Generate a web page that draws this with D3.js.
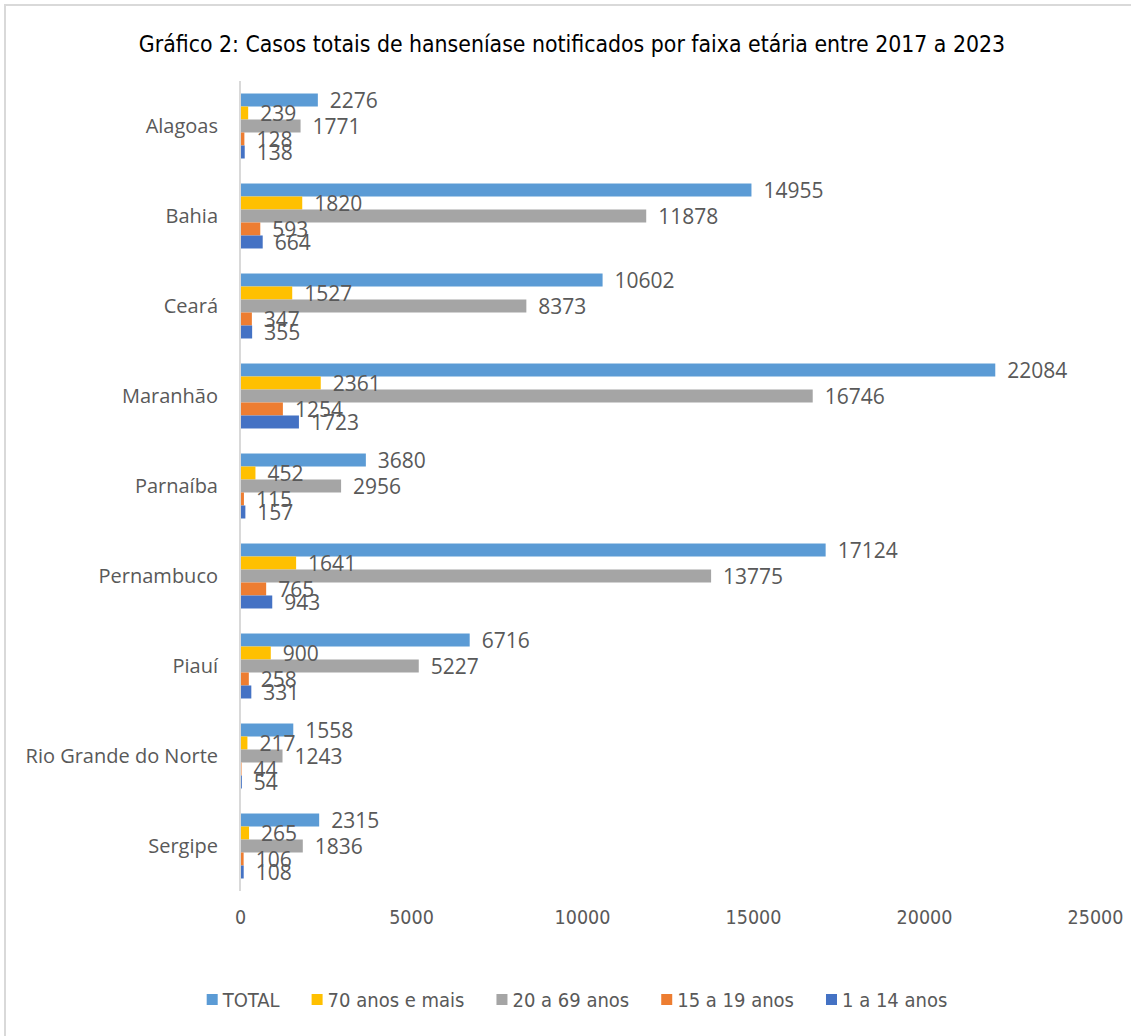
<!DOCTYPE html>
<html lang="pt">
<head>
<meta charset="utf-8">
<script src="https://d3js.org/d3.v7.min.js"></script>
<style>
  body { margin: 0; background: #fff; }
  svg { display: block; }
</style>
</head>
<body>
<script>
// categories (top to bottom) and series (top to bottom inside a group)
const estados = ["Alagoas", "Bahia", "Ceará", "Maranhão", "Parnaíba", "Pernambuco", "Piauí", "Rio Grande do Norte", "Sergipe"];
const series = ["TOTAL", "70 anos e mais", "20 a 69 anos", "15 a 19 anos", "1 a 14 anos"];
const cores = ["#5B9BD5", "#FFC000", "#A5A5A5", "#ED7D31", "#4472C4"];

const total      = [2276, 14955, 10602, 22084, 3680, 17124, 6716, 1558, 2315];
const setentaMais = [239, 1820, 1527, 2361, 452, 1641, 900, 217, 265];
const vinte69    = [1771, 11878, 8373, 16746, 2956, 13775, 5227, 1243, 1836];
const quinze19   = [128, 593, 347, 1254, 115, 765, 258, 44, 106];
const um14       = [138, 664, 355, 1723, 157, 943, 331, 54, 108];

const xTicks = [0, 5000, 10000, 15000, 20000, 25000];
const titulo = "Gráfico 2: Casos totais de hanseníase notificados por faixa etária entre 2017 a 2023";

const valores = [total, setentaMais, vinte69, quinze19, um14];

const width = 1131, height = 1036;
const narrow = "'Liberation Sans Narrow', 'DejaVu Sans Condensed', sans-serif";
const regular = "'Open Sans', 'DejaVu Sans', sans-serif";
const cinza = "#595959";

const svg = d3.select("body").append("svg")
    .attr("width", width)
    .attr("height", height);

svg.append("rect")
    .attr("width", width).attr("height", height)
    .attr("fill", "#fff");

// frame
svg.append("rect")
    .attr("x", 5).attr("y", 5)
    .attr("width", width + 20).attr("height", height + 20)
    .attr("fill", "none")
    .attr("stroke", "#d9d9d9")
    .attr("stroke-width", 2);

svg.append("text")
    .attr("x", 572).attr("y", 52)
    .attr("text-anchor", "middle")
    .style("font-family", narrow)
    .style("font-size", "22.8px")
    .attr("fill", "#000")
    .text(titulo);

const x = d3.scaleLinear()
    .domain([0, 25000])
    .range([240, 1095]);

const y = d3.scaleBand()
    .domain(estados)
    .range([81, 891])
    .paddingInner(0.278)
    .paddingOuter(0.139);

const ySub = d3.scaleBand()
    .domain(series)
    .range([0, y.bandwidth()]);

const linhas = [];
estados.forEach(function (e, i) {
    series.forEach(function (s, j) {
        linhas.push({ estado: e, serie: s, valor: valores[j][i], cor: cores[j] });
    });
});

const g = svg.append("g");

g.selectAll("rect.bar")
    .data(linhas)
    .enter()
    .append("rect")
    .attr("class", "bar")
    .attr("x", x(0))
    .attr("y", d => y(d.estado) + ySub(d.serie))
    .attr("width", d => x(d.valor) - x(0))
    .attr("height", ySub.bandwidth())
    .attr("fill", d => d.cor);

g.selectAll("text.val")
    .data(linhas)
    .enter()
    .append("text")
    .attr("class", "val")
    .attr("x", d => x(d.valor) + 12)
    .attr("y", d => y(d.estado) + ySub(d.serie) + ySub.bandwidth() / 2)
    .attr("dy", "0.36em")
    .style("font-family", regular)
    .style("font-size", "21px")
    .attr("fill", cinza)
    .text(d => d.valor);

// vertical category axis line
svg.append("line")
    .attr("x1", x(0)).attr("x2", x(0))
    .attr("y1", 81).attr("y2", 891)
    .attr("stroke", "#d9d9d9")
    .attr("stroke-width", 2);

svg.selectAll("text.cat")
    .data(estados)
    .enter()
    .append("text")
    .attr("class", "cat")
    .attr("x", 218)
    .attr("y", d => y(d) + y.bandwidth() / 2)
    .attr("dy", "0.36em")
    .attr("text-anchor", "end")
    .style("font-family", regular)
    .style("font-size", "20px")
    .attr("fill", cinza)
    .text(d => d);

const xAxis = d3.axisBottom(x)
    .tickValues(xTicks)
    .tickSize(0)
    .tickPadding(0)
    .tickFormat(d3.format("d"));

const ax = svg.append("g")
    .attr("transform", "translate(0, 910)")
    .call(xAxis);
ax.select(".domain").remove();
ax.selectAll("text")
    .style("font-family", narrow)
    .style("font-size", "19.5px")
    .attr("fill", cinza);

// legend
const leg = svg.append("g").attr("transform", "translate(0, 1000)");
const itens = leg.selectAll("g")
    .data(series)
    .enter()
    .append("g");
itens.append("rect")
    .attr("y", -6)
    .attr("width", 11).attr("height", 11)
    .attr("fill", (d, i) => cores[i]);
itens.append("text")
    .attr("x", 16)
    .attr("dy", "0.36em")
    .style("font-family", narrow)
    .style("font-size", "20px")
    .attr("fill", cinza)
    .text(d => d);

let pos = 0;
const larguras = [];
itens.each(function () {
    const w = 16 + d3.select(this).select("text").node().getComputedTextLength();
    larguras.push(w);
});
const gap = 32;
const totalW = d3.sum(larguras) + gap * (larguras.length - 1);
pos = 577 - totalW / 2;
itens.attr("transform", function (d, i) {
    const p = pos;
    pos += larguras[i] + gap;
    return "translate(" + p + ",0)";
});
</script>
</body>
</html>
